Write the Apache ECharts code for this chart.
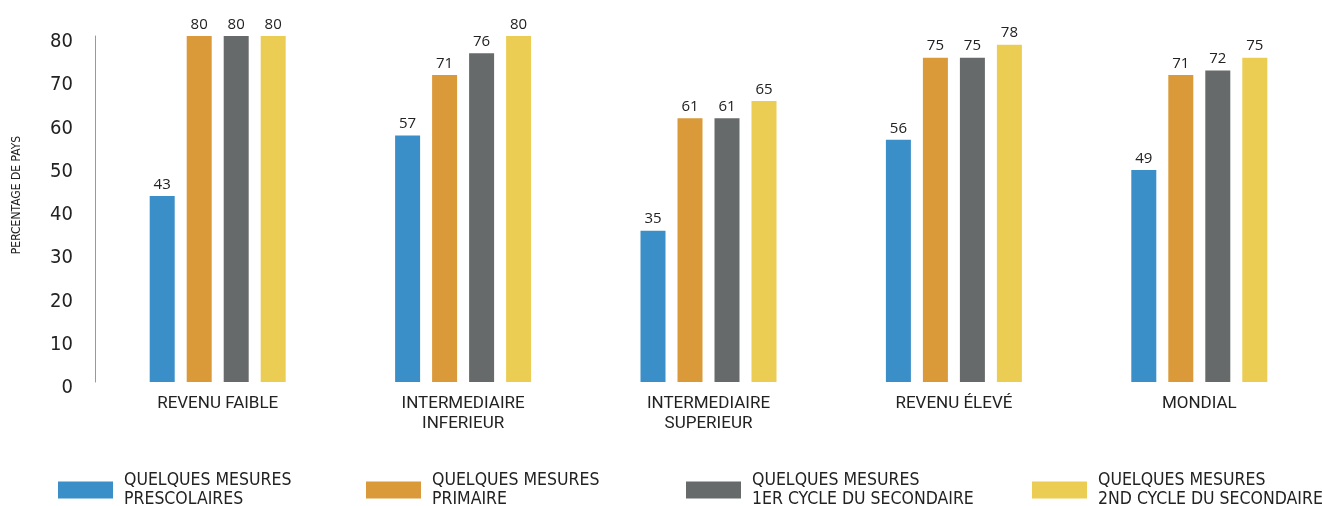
<!DOCTYPE html>
<html lang="fr">
<head>
<meta charset="UTF-8">
<title>Pourcentage de pays</title>
<script src="https://cdn.jsdelivr.net/npm/echarts@6/dist/echarts.min.js"></script>
<style>
  html, body { margin: 0; padding: 0; background: #fff; }
  #main { width: 1322px; height: 506px; }
</style>
</head>
<body>
<div id="main"></div>
<script>
// categories (x axis)
var categories = ['REVENU FAIBLE', 'INTERMEDIAIRE\nINFERIEUR', 'INTERMEDIAIRE\nSUPERIEUR', 'REVENU ÉLEVÉ', 'MONDIAL'];
// series names
var seriesNames = [
    'QUELQUES MESURES\nPRESCOLAIRES',
    'QUELQUES MESURES\nPRIMAIRE',
    'QUELQUES MESURES\n1ER CYCLE DU SECONDAIRE',
    'QUELQUES MESURES\n2ND CYCLE DU SECONDAIRE'
];
// values
var prescolaire = [43, 57, 35, 56, 49];
var primaire = [80, 71, 61, 75, 71];
var secondaire1 = [80, 76, 61, 75, 72];
var secondaire2 = [80, 80, 65, 78, 75];

var colors = ['#3a8fc8', '#db9a39', '#676a6a', '#ebcd53'];
var narrow = '"Liberation Sans Narrow", "DejaVu Sans Condensed", "Roboto", sans-serif';

var chart = echarts.init(document.getElementById('main'));

function bar(i, values) {
    return {
        name: seriesNames[i],
        type: 'bar',
        data: values,
        barWidth: 25,
        barGap: '48%',
        itemStyle: { color: colors[i] },
        label: {
            show: true,
            position: 'top',
            distance: 4,
            color: '#222',
            fontSize: 15,
            fontFamily: '"Open Sans", "Noto Sans", sans-serif'
        }
    };
}

// one legend per item, they are not evenly spaced in the original
var legendLeft = [58, 366, 686, 1032];
var legends = [];
for (var i = 0; i < 4; i++) {
    legends.push({
        data: [seriesNames[i]],
        left: legendLeft[i],
        top: 471,
        padding: 0,
        itemWidth: 55,
        itemHeight: 17,
        icon: 'rect',
        selectedMode: false,
        textStyle: {
            color: '#222',
            fontSize: 17.5,
            lineHeight: 19,
            padding: [0, 0, 0, 6],
            fontFamily: narrow
        }
    });
}

var option = {
    animation: false,
    color: colors,
    grid: { left: 95, top: 36, width: 1235, height: 346 },
    legend: legends,
    xAxis: {
        type: 'category',
        data: categories,
        axisLine: { show: false },
        axisTick: { show: false },
        axisLabel: {
            color: '#222',
            fontSize: 17,
            lineHeight: 20,
            margin: 12,
            fontFamily: '"Roboto", "Noto Sans", sans-serif'
        }
    },
    yAxis: {
        type: 'value',
        min: 0,
        max: 80,
        interval: 10,
        name: 'PERCENTAGE DE PAYS',
        nameLocation: 'middle',
        nameRotate: 90,
        nameGap: 72,
        nameTextStyle: { color: '#222', fontSize: 12, fontFamily: narrow, padding: [0, 0, 0, 28] },
        axisLine: { show: true, lineStyle: { color: '#999', width: 1 } },
        axisTick: { show: false },
        splitLine: { show: false },
        axisLabel: {
            color: '#222',
            fontSize: 20,
            lineHeight: 12,
            verticalAlign: 'top',
            margin: 22,
            fontFamily: narrow
        }
    },
    series: [
        bar(0, prescolaire),
        bar(1, primaire),
        bar(2, secondaire1),
        bar(3, secondaire2)
    ]
};

chart.setOption(option);
</script>
</body>
</html>
